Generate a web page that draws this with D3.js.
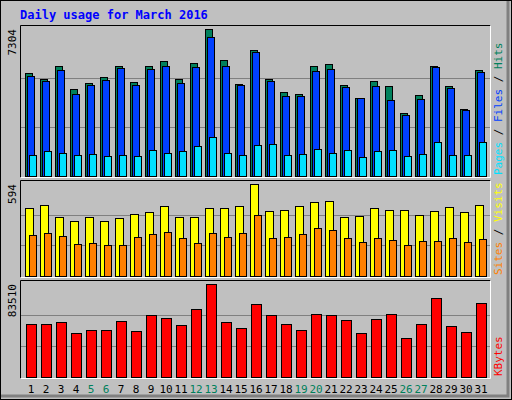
<!DOCTYPE html>
<html><head><meta charset="utf-8">
<script src="https://cdn.jsdelivr.net/npm/d3@7"></script>
<style>body{margin:0;background:#fff}</style>
</head><body><svg id="chart" width="512" height="400"></svg>
<script>
// values, one entry per day of March 2016
const days = d3.range(1, 32);
const weekends = [5, 6, 12, 13, 19, 20, 26, 27];
const hits = [5118,4820,5466,4323,4621,4919,5466,4671,5466,5714,4820,5615,7304,5764,4571,6261,4820,4174,4075,5466,5565,4522,3876,4721,4472,3130,4025,5466,4472,3329,5267];
const files = [4969,4720,5267,4075,4522,4770,5366,4522,5317,5466,4621,5416,6907,5466,4522,6162,4720,3975,3975,5217,5317,4422,3876,4472,3776,3031,3826,5416,4373,3280,5168];
const pages = [1043,1242,1143,1043,1093,994,1043,994,1292,1143,1242,1491,1938,1143,1043,1540,1590,1043,1093,1342,1143,1292,944,1242,1292,994,1093,1689,1043,1043,1689];
const visits = [437,456,379,353,379,353,372,398,411,450,379,379,437,437,450,594,417,424,450,476,482,379,385,437,424,424,392,417,443,411,456];
const sites = [263,275,256,204,211,198,198,250,269,282,243,211,275,250,275,392,243,250,269,308,295,243,217,243,230,198,224,224,243,217,237];
const kbytes = [47854,47854,49682,39624,42367,42367,50597,41453,56083,53340,46939,60655,83510,49682,44196,65227,56083,47854,42367,56998,56083,51511,39624,52426,56998,35052,47854,70714,46025,40538,66142];

const svg = d3.select("#chart");
const font = "'DejaVu Sans Mono', monospace";

// outer 3d frame
svg.append("rect").attr("width", 512).attr("height", 400).attr("fill", "#c0c0c0");
svg.append("path").attr("d", "M0.5,399.5V0.5H511.5").attr("stroke", "#fff").attr("fill", "none");
svg.append("path").attr("d", "M1,396H508V1").attr("stroke", "#808080").attr("stroke-width", 3).attr("fill", "none");
svg.append("rect").attr("x", 0.5).attr("y", 0.5).attr("width", 511).attr("height", 399).attr("fill", "none").attr("stroke", "#000");

svg.append("text").attr("x", 20).attr("y", 19).text("Daily usage for March 2016")
  .attr("font-family", font).attr("font-weight", "bold").attr("font-size", 12).attr("fill", "#0000ff");

const x = d3.scaleLinear().domain([1, 2]).range([25, 40]);

function panel(y0, y1, max, label, series) {
  svg.append("path").attr("d", `M20.5,${y1 + 0.5}V${y0 + 0.5}H490.5`).attr("stroke", "#000").attr("fill", "none");
  svg.append("path").attr("d", `M20.5,${y1 + 0.5}H490.5V${y0 + 0.5}`).attr("stroke", "#fff").attr("fill", "none");
  const base = y1 - 1;
  const y = d3.scaleLinear().domain([0, max]).range([base, y0 + 4]);
  [1 / 3, 2 / 3].forEach(f => {
    const gy = Math.round(base - (base - y0 - 4) * f) + 0.5;
    svg.append("line").attr("x1", 21).attr("x2", 490).attr("y1", gy).attr("y2", gy).attr("stroke", "#808080");
  });
  series.forEach(s => {
    svg.append("g").selectAll("rect").data(s.data).join("rect")
      .attr("x", (d, i) => x(i + 1) + s.dx + 0.5)
      .attr("y", d => Math.round(y(d)) + 0.5)
      .attr("width", s.w)
      .attr("height", d => base - Math.round(y(d)))
      .attr("fill", s.color).attr("stroke", "#000");
  });
  svg.append("text").attr("transform", `translate(16,${y0 + 4}) rotate(-90)`)
    .attr("text-anchor", "end").attr("font-family", font).attr("font-size", 11).text(max);
  // right side label, rotated
  const t = svg.append("text").attr("transform", `translate(502,${y1 - 2}) rotate(-90)`)
    .attr("font-family", font).attr("font-size", 11);
  label.forEach(p => t.append("tspan").attr("fill", p[1]).text(p[0]));
}

panel(25, 177, 7304, [["Pages", "#00e0ff"], [" / ", "#000"], ["Files", "#0040ff"], [" / ", "#000"], ["Hits", "#00805c"]], [
  { data: hits, dx: 0, w: 7, color: "#00805c" },
  { data: files, dx: 2, w: 7, color: "#0040ff" },
  { data: pages, dx: 4, w: 7, color: "#00e0ff" }
]);
panel(180, 277, 594, [["Sites", "#ff8000"], [" / ", "#000"], ["Visits", "#ffff00"]], [
  { data: visits, dx: 0, w: 8, color: "#ffff00" },
  { data: sites, dx: 4, w: 7, color: "#ff8000" }
]);
panel(280, 378, 83510, [["KBytes", "#ff0000"]], [
  { data: kbytes, dx: 1, w: 10, color: "#ff0000" }
]);

svg.append("g").selectAll("text").data(days).join("text")
  .attr("x", d => x(d) + 6).attr("y", 393).attr("text-anchor", "middle")
  .attr("font-family", font).attr("font-size", 11)
  .attr("fill", d => weekends.includes(d) ? "#00805c" : "#000")
  .text(d => d);
</script></body></html>
